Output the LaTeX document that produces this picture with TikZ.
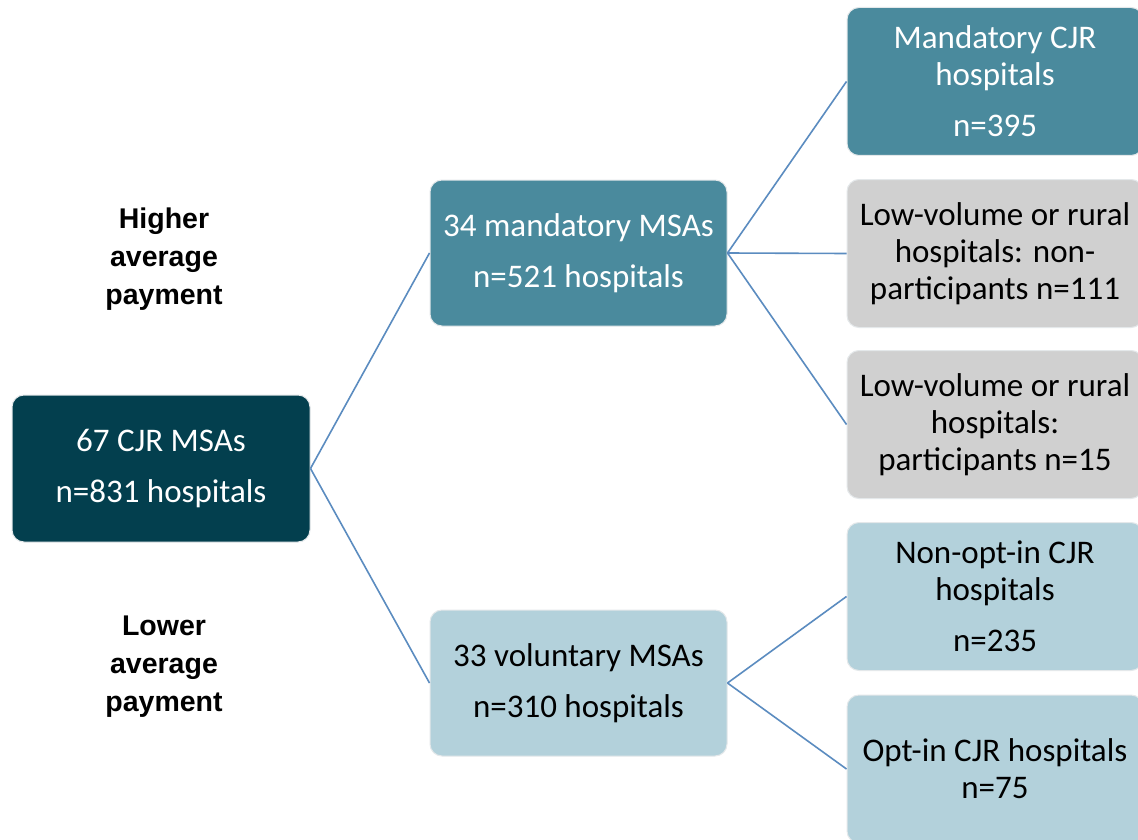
\documentclass[tikz,border=0pt]{standalone}
\usepackage{fontspec}
\setmainfont{Carlito}
\newfontfamily\labfont{Liberation Sans}
\definecolor{cdark}{HTML}{033F4E}
\definecolor{cmid}{HTML}{4A8A9D}
\definecolor{cgray}{HTML}{D0D0D0}
\definecolor{clight}{HTML}{B3D1DB}
\definecolor{cline}{HTML}{5B8CC0}
\definecolor{cborder}{HTML}{E4E8EA}
\begin{document}
\begin{tikzpicture}[x=1pt,y=-1pt,
  box/.style={rectangle, rounded corners=12pt, draw=cborder, line width=1pt,
    align=center, inner sep=0pt, font=\fontsize{33}{37}\selectfont},
  midbox/.style={box, minimum width=297pt, minimum height=146pt},
  rbox/.style={box, minimum width=296pt, minimum height=148pt},
  lab/.style={align=center, inner sep=0pt, font=\labfont\bfseries\fontsize{28.5}{38}\selectfont},
  conn/.style={draw=cline, line width=1.6pt}]
\clip (0,0) rectangle (1138,840);
\fill[white] (0,0) rectangle (1138,840);
\node[box, fill=cdark, text=white, minimum width=298pt, minimum height=147pt] (root) at (161,468.5) {67 CJR MSAs\\[14pt]n=831 hospitals};
\node[midbox, fill=cmid, text=white] (mand) at (578.5,253) {34 mandatory MSAs\\[14pt]n=521 hospitals};
\node[midbox, fill=clight, text=black] (vol) at (578.5,683) {33 voluntary MSAs\\[14pt]n=310 hospitals};
\node[rbox, fill=cmid, text=white] (mcjr) at (995,81.5) {Mandatory CJR\\hospitals\\[14pt]n=395};
\node[rbox, fill=cgray, text=black] (lvnp) at (995,253.5) {Low-volume or rural\\hospitals: non-\\participants n=111};
\node[rbox, fill=cgray, text=black] (lvp) at (995,424.5) {Low-volume or rural\\hospitals:\\participants n=15};
\node[rbox, fill=clight, text=black] (nopt) at (995,596.5) {Non-opt-in CJR\\hospitals\\[14pt]n=235};
\node[rbox, fill=clight, text=black] (opt) at (995,769) {Opt-in CJR hospitals\\n=75};
\draw[conn] (root.east) -- (mand.west);
\draw[conn] (root.east) -- (vol.west);
\draw[conn] (mand.east) -- (mcjr.west);
\draw[conn] (mand.east) -- (lvnp.west);
\draw[conn] (mand.east) -- (lvp.west);
\draw[conn] (vol.east) -- (nopt.west);
\draw[conn] (vol.east) -- (opt.west);
\node[lab] (hi) at (164,259) {Higher\\average\\payment};
\node[lab] (lo) at (164,667) {Lower\\average\\payment};
\end{tikzpicture}
\end{document}
